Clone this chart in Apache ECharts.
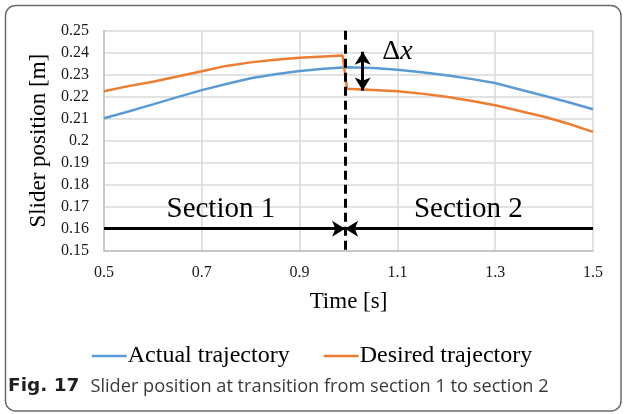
<!DOCTYPE html>
<html>
<head>
<meta charset="utf-8">
<script src="https://cdn.jsdelivr.net/npm/echarts@6/dist/echarts.min.js"></script>
<style>
html,body{margin:0;padding:0;background:#fff;}
#chart{width:624px;height:414px;}
</style>
</head>
<body>
<div id="chart"></div>
<script>
// ---- data ----
const timeS = [0.5, 0.55, 0.6, 0.65, 0.7, 0.75, 0.8, 0.85, 0.9, 0.95, 0.988, 0.997, 1.05, 1.1, 1.15, 1.2, 1.25, 1.3, 1.35, 1.4, 1.45, 1.5];
const actualTrajectory = [0.2102, 0.2133, 0.2165, 0.2198, 0.2230, 0.2258, 0.2284, 0.2302, 0.2317, 0.2327, 0.2333, 0.2334, 0.2331, 0.2323, 0.2311, 0.2297, 0.2281, 0.2262, 0.2233, 0.2204, 0.2175, 0.2143];
const desiredTrajectory = [0.2225, 0.2248, 0.2268, 0.2292, 0.2316, 0.2340, 0.2356, 0.2368, 0.2377, 0.2383, 0.2387, 0.2236, 0.2231, 0.2225, 0.2214, 0.2200, 0.2182, 0.2161, 0.2135, 0.2109, 0.2077, 0.2040];
const seriesNames = ['Actual trajectory', 'Desired trajectory'];
const xTicks = [0.5, 0.7, 0.9, 1.1, 1.3, 1.5];
const yTicks = [0.15, 0.16, 0.17, 0.18, 0.19, 0.2, 0.21, 0.22, 0.23, 0.24, 0.25];
const boundaryT = 0.993;
const sectionArrowY = 0.16;
const sectionLabels = ['Section 1', 'Section 2'];
const sectionLabelPos = [[0.739, 0.1687], [1.245, 0.1687]];
const deltaArrowT = 1.029;
const deltaArrowRange = [0.2404, 0.2228];
const deltaLabelPos = [1.100, 0.2405];
const captionBold = 'Fig. 17';
const captionText = 'Slider position at transition from section 1 to section 2';

const serif = 'Liberation Serif';
const chart = echarts.init(document.getElementById('chart'), null, {renderer: 'canvas'});

const pair = (ys) => timeS.map((t, i) => [t, ys[i]]);
const arrowEnd = (coord) => ({coord: coord, symbol: 'arrow', symbolSize: [12, 13], symbolOffset: [0, 0]});

const option = {
  animation: false,
  backgroundColor: '#fff',
  grid: {left: 104, right: 31, top: 30.7, bottom: 163.3, containLabel: false},
  xAxis: {
    type: 'value',
    min: xTicks[0], max: xTicks[xTicks.length - 1], interval: 0.2,
    name: 'Time [s]', nameLocation: 'middle', nameGap: 40,
    nameTextStyle: {fontFamily: serif, fontSize: 23, color: '#000'},
    axisLine: {show: true, lineStyle: {color: '#bfbfbf', width: 1.5}},
    axisTick: {show: false},
    splitLine: {show: true, lineStyle: {color: '#d9d9d9', width: 1.5}},
    axisLabel: {fontFamily: serif, fontSize: 16, color: '#1a1a1a', margin: 14,
      formatter: v => String(+v.toFixed(2))}
  },
  yAxis: {
    type: 'value',
    min: yTicks[0], max: yTicks[yTicks.length - 1], interval: 0.01,
    name: 'Slider position [m]', nameLocation: 'middle', nameGap: 46,
    nameTextStyle: {fontFamily: serif, fontSize: 23, color: '#000'},
    axisLine: {show: true, lineStyle: {color: '#bfbfbf', width: 1.5}},
    axisTick: {show: false},
    splitLine: {show: true, lineStyle: {color: '#d9d9d9', width: 1.5}},
    axisLabel: {fontFamily: serif, fontSize: 16, color: '#1a1a1a', margin: 15,
      formatter: v => String(+v.toFixed(2))}
  },
  legend: {
    data: seriesNames.map(n => ({name: n, icon: 'rect'})),
    top: 339, left: 'center',
    itemWidth: 35, itemHeight: 2.5, itemGap: 34,
    textStyle: {fontFamily: serif, fontSize: 24, color: '#000', padding: [0, 0, 0, -4]}
  },
  series: [
    {
      name: seriesNames[0], type: 'line', data: pair(actualTrajectory),
      showSymbol: false, symbol: 'none', color: '#5B9BD5',
      lineStyle: {width: 2.5, color: '#5B9BD5'}, z: 3
    },
    {
      name: seriesNames[1], type: 'line', data: pair(desiredTrajectory),
      showSymbol: false, symbol: 'none', color: '#ED7D31',
      lineStyle: {width: 2.5, color: '#ED7D31'}, z: 3
    },
    {
      name: 'annotations', type: 'line', data: [], z: 5,
      markLine: {
        silent: true, animation: false,
        label: {show: false},
        emphasis: {disabled: true},
        data: [
          [
            {coord: [boundaryT, yTicks[yTicks.length - 1]], symbol: 'none',
             lineStyle: {color: '#000', width: 3, type: [9, 5]}},
            {coord: [boundaryT, yTicks[0]], symbol: 'none'}
          ],
          [
            {coord: [xTicks[0], sectionArrowY], symbol: 'none',
             lineStyle: {color: '#000', width: 3, type: 'solid'}},
            arrowEnd([boundaryT, sectionArrowY])
          ],
          [
            {coord: [xTicks[xTicks.length - 1], sectionArrowY], symbol: 'none',
             lineStyle: {color: '#000', width: 3, type: 'solid'}},
            arrowEnd([boundaryT, sectionArrowY])
          ],
          [
            Object.assign(arrowEnd([deltaArrowT, deltaArrowRange[0]]),
              {lineStyle: {color: '#000', width: 3, type: 'solid'}}),
            arrowEnd([deltaArrowT, deltaArrowRange[1]])
          ]
        ]
      },
      markPoint: {
        silent: true, animation: false,
        symbol: 'circle', symbolSize: 1,
        itemStyle: {color: 'rgba(0,0,0,0)'},
        data: [
          {coord: sectionLabelPos[0], label: {show: true, position: 'inside', formatter: sectionLabels[0],
            fontFamily: serif, fontSize: 29, color: '#000'}},
          {coord: sectionLabelPos[1], label: {show: true, position: 'inside', formatter: sectionLabels[1],
            fontFamily: serif, fontSize: 29, color: '#000'}},
          {coord: deltaLabelPos, label: {show: true, position: 'inside', formatter: '{d|Δ}{x|x}',
            rich: {
              d: {fontFamily: serif, fontSize: 28, color: '#000'},
              x: {fontFamily: serif, fontStyle: 'italic', fontSize: 28, color: '#000'}
            }}}
        ]
      }
    }
  ],
  graphic: [
    {type: 'rect', silent: true, z: 100,
     shape: {x: 5.5, y: 5.5, width: 615.5, height: 405.5, r: 10},
     style: {fill: 'none', stroke: '#6a6a6a', lineWidth: 1.5}},
    {type: 'text', left: 8, top: 377, silent: true,
     style: {
       text: '{b|' + captionBold + '}{n|' + captionText + '}',
       rich: {
         b: {fontFamily: 'DejaVu Sans', fontWeight: 'bold', fontSize: 18.5, fill: '#231f20', padding: [0, 11, 0, 0]},
         n: {fontFamily: 'Open Sans', fontSize: 18.2, fill: '#3a3a3a'}
       }
     }}
  ]
};
chart.setOption(option);
</script>
</body>
</html>
